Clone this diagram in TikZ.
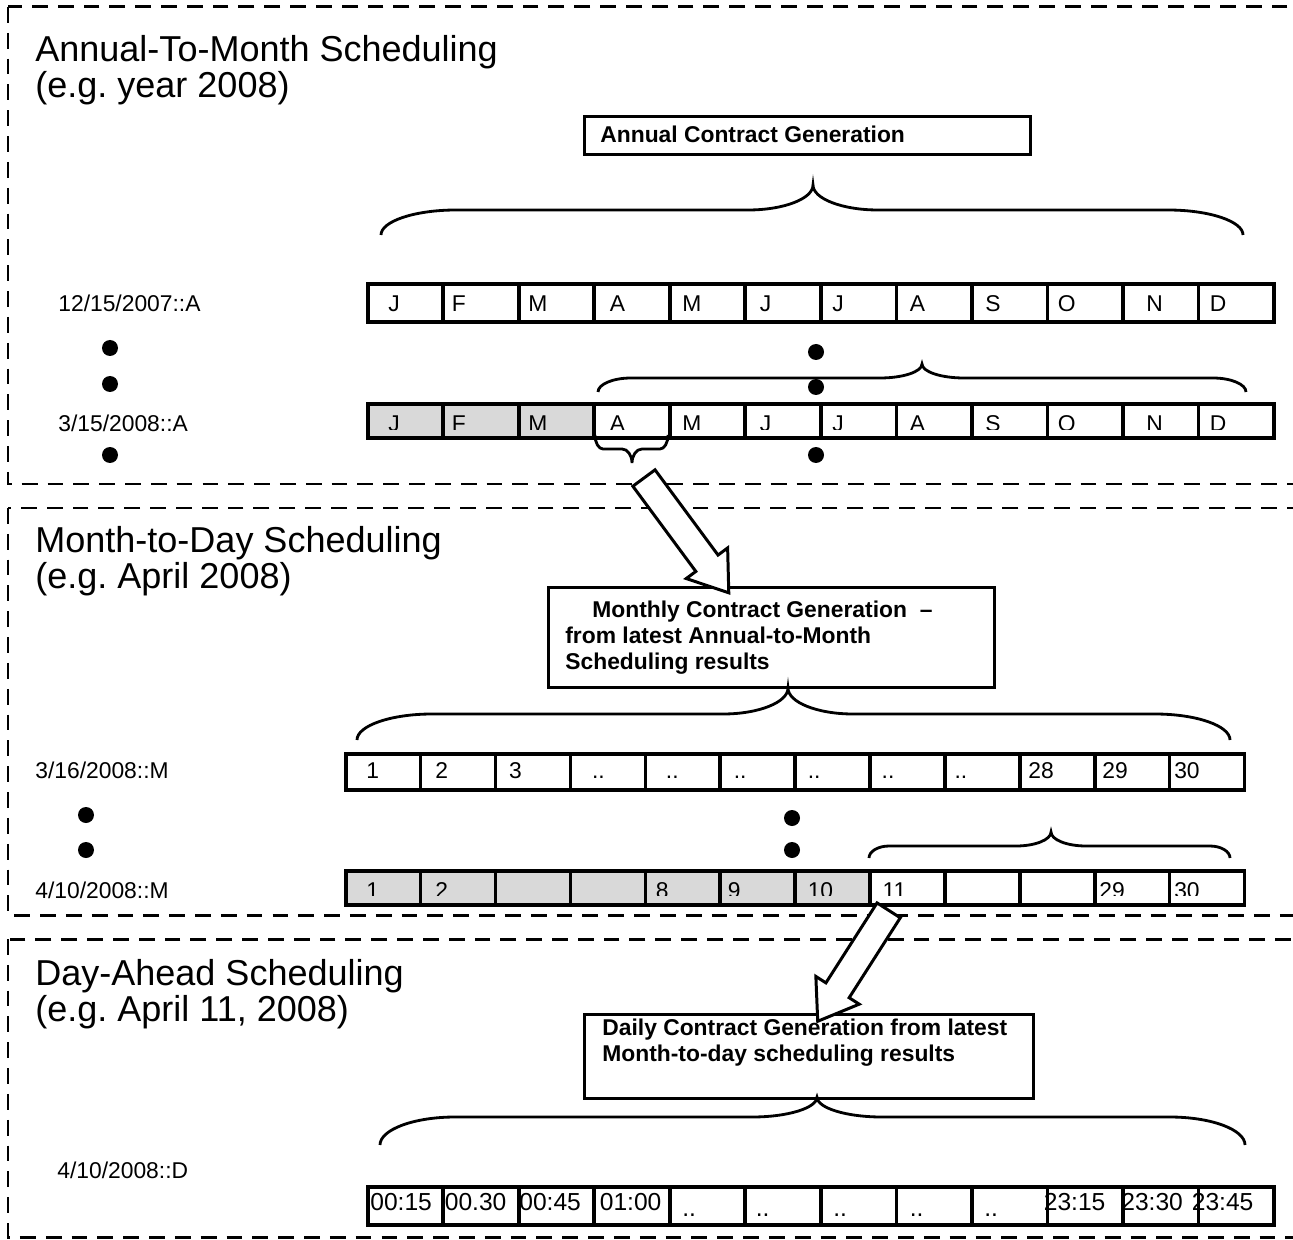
\documentclass[tikz,border=0pt]{standalone}
\usepackage{fontspec}
\setmainfont{Liberation Sans}
\usetikzlibrary{shapes.arrows,calc,positioning}
\frenchspacing

\definecolor{cellgrey}{RGB}{217,217,217}

% curly brace: x1, x2, x of tip, y of ends, y of bar, y of tip, end width, tip width
\newcommand{\curlybrace}[8]{%
  \draw[bracepen] (#1,#4) .. controls (#1,{#4+0.55*(#5-#4)}) and ({#1+0.45*#7},#5) .. ({#1+#7},#5)
    -- ({#3-#8},#5) .. controls ({#3-0.45*#8},#5) and (#3,{#6+0.55*(#5-#6)}) .. (#3,#6)
    .. controls (#3,{#6+0.55*(#5-#6)}) and ({#3+0.45*#8},#5) .. ({#3+#8},#5)
    -- ({#2-#7},#5) .. controls ({#2-0.45*#7},#5) and (#2,{#4+0.55*(#5-#4)}) .. (#2,#4);
}

\begin{document}
\begin{tikzpicture}[x=0.02cm, y=-0.02cm,
    panel/.style={draw, line width=1.7pt, dash pattern=on 9pt off 5.7pt},
    title/.style={font=\fontsize{20.5}{24}\selectfont, inner sep=0, anchor=base west},
    datelabel/.style={font=\fontsize{13}{15}\selectfont, inner sep=0, anchor=base west},
    celltext/.style={font=\fontsize{13}{15}\selectfont, inner sep=0, anchor=base west},
    slottext/.style={font=\fontsize{14}{16}\selectfont, inner sep=0, anchor=base west},
    boxtext/.style={font=\bfseries\fontsize{13}{14.5}\selectfont, inner sep=0, align=left},
    genbox/.style={draw, line width=1.7pt, inner sep=0, anchor=north west},
    cell/.style={draw, line width=2pt, inner sep=0, anchor=north west, minimum width=1.51cm},
    dot/.style={circle, fill, inner sep=0, minimum size=0.32cm},
    bracepen/.style={line width=1.6pt},
    bigarrow/.style={single arrow, draw, fill=white, line width=1.7pt, inner xsep=0pt,
      inner ysep=7pt, text height=0pt, text depth=0pt, single arrow head extend=6.8pt,
      single arrow tip angle=70, single arrow head indent=0pt}]

    \useasboundingbox (0,0) rectangle (1293,1239);

    % the three dashed panels
    \draw[panel] (8,7) rectangle (1320,484);
    \draw[panel] (8,508) rectangle (1320,915);
    \draw[panel] (8,939) rectangle (1320,1237);

    % panel titles
    \node[title] (t1a) at (35,62) {Annual-To-Month Scheduling};
    \node[title] (t1b) at (35,98) {(e.g. year 2008)};
    \node[title] (t2a) at (35,552) {Month-to-Day Scheduling};
    \node[title] (t2b) at (35,588) {(e.g. April 2008)};
    \node[title] (t3a) at (35,985) {Day-Ahead Scheduling};
    \node[title] (t3b) at (35,1021) {(e.g. April 11, 2008)};

    % contract generation boxes
    \node[genbox, minimum width=8.92cm, minimum height=0.76cm] (annualbox) at (583,115) {};
    \node[boxtext, anchor=west] (annualtext) at (600,134) {Annual Contract Generation};
    \node[genbox, minimum width=8.92cm, minimum height=2cm] (monthbox) at (547,586) {};
    \node[boxtext, anchor=north west, font=\bfseries\fontsize{13}{14.7}\selectfont] (monthtext) at (565,601)
        {\hspace*{0.54cm}Monthly Contract Generation \ --\\from latest Annual-to-Month\\Scheduling results};
    \node[genbox, minimum width=8.98cm, minimum height=1.68cm] (dailybox) at (583,1013) {};
    \node[boxtext, anchor=north west, font=\bfseries\fontsize{13}{14.7}\selectfont] (dailytext) at (602,1019)
        {Daily Contract Generation from latest\\Month-to-day scheduling results};

    % date labels
    \node[datelabel] (la1) at (58,312) {12/15/2007::A};
    \node[datelabel] (la2) at (58,432) {3/15/2008::A};
    \node[datelabel] (lm1) at (35,778) {3/16/2008::M};
    \node[datelabel] (lm2) at (35,898) {4/10/2008::M};
    \node[datelabel] (ld) at (57,1178) {4/10/2008::D};

    % first annual run
    \foreach \m/\dx [count=\i from 0] in {J/22,F/10,M/11,A/17,M/14,J/16,J/13,A/15,S/15,O/12,N/25,D/13} {
        \node[cell, minimum height=0.76cm] (a1c\i) at ({366+75.5*\i},282) {};
        \node[celltext] (a1t\i) at ({366+75.5*\i+\dx},312) {\m};
    }

    % latest annual run, months already passed in grey
    \foreach \f [count=\i from 0] in {cellgrey,cellgrey,cellgrey,white,white,white,white,white,white,white,white,white}
        \node[cell, fill=\f, minimum height=0.68cm] (a2c\i) at ({366+75.5*\i},402) {};
    \begin{scope}
        \clip (366,402) rectangle (1272,430);
        \foreach \m/\dx [count=\i from 0] in {J/22,F/10,M/11,A/17,M/14,J/16,J/13,A/15,S/15,O/12,N/25,D/13}
            \node[celltext] (a2t\i) at ({366+75.5*\i+\dx},432) {\m};
    \end{scope}

    % first monthly run
    \foreach \m/\dx [count=\i from 0] in {1/22,2/16,3/15,../23,../22,../15,../14,../13,../11,28/10,29/9,30/6} {
        \node[cell, minimum width=1.498cm, minimum height=0.72cm] (m1c\i) at ({344+74.9*\i},752) {};
        \node[celltext] (m1t\i) at ({344+74.9*\i+\dx},778) {\m};
    }

    % latest monthly run
    \foreach \f [count=\i from 0] in {cellgrey,cellgrey,cellgrey,cellgrey,cellgrey,cellgrey,cellgrey,white,white,white,white,white}
        \node[cell, fill=\f, minimum width=1.498cm, minimum height=0.68cm] (m2c\i) at ({344+74.9*\i},869) {};
    \begin{scope}
        \clip (344,869) rectangle (1243,895);
        \foreach \m/\dx [count=\i from 0] in {1/22,2/16,/0,/0,8/12,9/9,10/14,11/14,/0,/0,29/6,30/6}
            \node[celltext] (m2t\i) at ({344+74.9*\i+\dx},898) {\m};
    \end{scope}

    % day-ahead run, quarter hours
    \foreach \m/\dx/\yb [count=\i from 0] in {00:15/4/1210,00.30/3/1210,00:45/2/1210,01:00/7/1210,
            ../14/1216,../12/1216,../14/1216,../15/1216,../14/1216,23:15/-2/1210,23:30/0/1210,23:45/-5/1210} {
        \node[cell, minimum height=0.76cm] (dc\i) at ({366+75.5*\i},1185) {};
        \node[slottext] (dt\i) at ({366+75.5*\i+\dx},\yb) {\m};
    }

    % dots between runs
    \node[dot] (da1) at (110,348) {};
    \node[dot] (da2) at (110,384) {};
    \node[dot] (da3) at (110,455) {};
    \node[dot] (db1) at (816,352) {};
    \node[dot] (db2) at (816,387) {};
    \node[dot] (db3) at (816,455) {};
    \node[dot] (dm1) at (86,815) {};
    \node[dot] (dm2) at (86,850) {};
    \node[dot] (dn1) at (792,818) {};
    \node[dot] (dn2) at (792,850) {};

    % braces
    \curlybrace{381}{1243}{813}{235}{210}{185}{75}{65}
    \curlybrace{598}{1246}{922}{392}{378}{364}{33}{42}
    \curlybrace{595}{668}{632}{435}{449}{463}{8}{10}
    \curlybrace{357}{1230}{788}{740}{714}{688}{75}{65}
    \curlybrace{869}{1230}{1051}{858}{846}{832}{20}{35}
    \curlybrace{380}{1245}{817}{1145}{1117}{1097}{75}{65}

    % block arrows down to the next level
    \coordinate (arrAtail) at (638,470);
    \coordinate (arrAtip) at (723,585);
    \coordinate (arrBtail) at (894,902);
    \coordinate (arrBtip) at (823,1013);
    \path let \p1 = ($(arrAtip)-(arrAtail)$), \n1 = {atan2(\y1,\x1)}, \n2 = {veclen(\x1,\y1)} in
        node[bigarrow, minimum height=\n2, rotate=\n1] (arrowA) at ($(arrAtail)!0.5!(arrAtip)$) {};
    \path let \p1 = ($(arrBtip)-(arrBtail)$), \n1 = {atan2(\y1,\x1)}, \n2 = {veclen(\x1,\y1)} in
        node[bigarrow, minimum height=\n2, rotate=\n1] (arrowB) at ($(arrBtail)!0.5!(arrBtip)$) {};
\end{tikzpicture}
\end{document}
